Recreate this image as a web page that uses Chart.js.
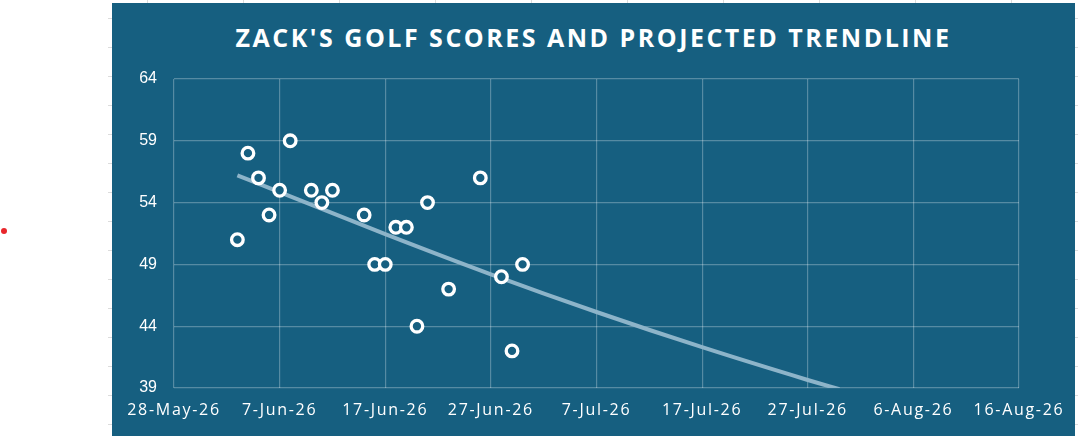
<!DOCTYPE html>
<html>
<head>
<meta charset="utf-8">
<title>Zack's Golf Scores</title>
<script src="https://cdn.jsdelivr.net/npm/chart.js@4.4.1/dist/chart.umd.min.js"></script>
<style>
  html, body { margin: 0; padding: 0; background: #ffffff; }
  body { width: 1078px; height: 436px; position: relative; overflow: hidden; }
  .cells-top { position: absolute; left: 112px; top: 0; width: 963px; height: 3px;
    background: repeating-linear-gradient(to right, transparent 0, transparent 35px, #dcdcdc 35px, #dcdcdc 36px, transparent 36px, transparent 96px); }
  .cells-left, .cells-right { position: absolute; top: 0; height: 436px;
    background: repeating-linear-gradient(to bottom, transparent 0, transparent 18px, #dcdcdc 18px, #dcdcdc 19px, transparent 19px, transparent 29px); }
  .cells-left { left: 108px; width: 4px; }
  .cells-right { left: 1075px; width: 3px; }
  .dot { position: absolute; left: 1px; top: 228px; width: 6px; height: 6px; border-radius: 50%; background: #e8262b; }
  .panel { position: absolute; left: 112px; top: 3px; width: 963px; height: 433px; background: #165f80; }
  .panel h1 { position: absolute; left: 0; top: 19px; width: 100%; margin: 0; text-align: center;
    font: 700 25px "Open Sans", sans-serif; line-height: 30px; letter-spacing: 2.5px; color: #ffffff; }
  #golfChart { position: absolute; left: 0; top: 0; }
</style>
</head>
<body>
<div class="cells-top"></div>
<div class="cells-left"></div>
<div class="cells-right"></div>
<div class="dot"></div>
<div class="panel">
  <h1>ZACK'S GOLF SCORES AND PROJECTED TRENDLINE</h1>
  <canvas id="golfChart" width="963" height="433"></canvas>
</div>
<script>
const scoreDates = ['2026-06-03', '2026-06-04', '2026-06-05', '2026-06-06', '2026-06-07', '2026-06-08',
  '2026-06-10', '2026-06-11', '2026-06-12', '2026-06-15', '2026-06-16', '2026-06-17', '2026-06-18',
  '2026-06-19', '2026-06-20', '2026-06-21', '2026-06-23', '2026-06-26', '2026-06-28', '2026-06-29', '2026-06-30'];
const scores = [51, 58, 56, 53, 55, 59, 55, 54, 55, 53, 49, 49, 52, 52, 44, 54, 47, 56, 48, 42, 49];

const trendDates = ['2026-06-03', '2026-06-07', '2026-06-17', '2026-06-27', '2026-07-07', '2026-07-17', '2026-07-27', '2026-07-30'];
const trendValues = [56.2, 54.85, 51.45, 48.2, 45.15, 42.3, 39.65, 38.9];

const xTickDates = ['2026-05-28', '2026-06-07', '2026-06-17', '2026-06-27', '2026-07-07',
  '2026-07-17', '2026-07-27', '2026-08-06', '2026-08-16'];
const yTicks = [39, 44, 49, 54, 59, 64];

const monthNames = ['Jan', 'Feb', 'Mar', 'Apr', 'May', 'Jun', 'Jul', 'Aug', 'Sep', 'Oct', 'Nov', 'Dec'];
const DAY = 86400000;
const baseTime = Date.parse(xTickDates[0] + 'T00:00:00Z');

// x values are days after the first axis date
function toDay(s) {
    return Math.round((Date.parse(s + 'T00:00:00Z') - baseTime) / DAY);
}
function dayLabel(d) {
    const dt = new Date(baseTime + d * DAY);
    return dt.getUTCDate() + '-' + monthNames[dt.getUTCMonth()] + '-' + String(dt.getUTCFullYear()).slice(2);
}

const bg = '#165f80';
const gridColor = 'rgba(255, 255, 255, 0.28)';

const spacedXLabels = {
    id: 'spacedXLabels',
    afterLayout(chart) {
        const sx = chart.scales.x;
        if (sx._spaced) return;
        const orig = sx.drawLabels.bind(sx);
        sx.drawLabels = function (area) {
            const ctx = chart.ctx;
            ctx.save();
            ctx.letterSpacing = '1.7px';
            orig(area);
            ctx.restore();
        };
        sx._spaced = true;
    }
};

new Chart(document.getElementById('golfChart'), {
    data: {
        datasets: [{
            type: 'scatter',
            label: 'Score',
            data: scoreDates.map((d, i) => ({ x: toDay(d), y: scores[i] })),
            pointRadius: 5.8,
            pointHoverRadius: 5.8,
            borderWidth: 3.3,
            borderColor: '#ffffff',
            backgroundColor: bg,
            order: 0
        }, {
            type: 'line',
            label: 'Trend',
            data: trendDates.map((d, i) => ({ x: toDay(d), y: trendValues[i] })),
            borderColor: '#8db4c9',
            borderWidth: 4,
            pointRadius: 0,
            cubicInterpolationMode: 'monotone',
            order: 1
        }]
    },
    options: {
        responsive: false,
        animation: false,
        layout: { padding: { top: 76, right: 56, left: 0, bottom: 0 } },
        plugins: {
            legend: { display: false },
            tooltip: { enabled: false }
        },
        scales: {
            x: {
                type: 'linear',
                min: 0,
                max: toDay(xTickDates[xTickDates.length - 1]),
                afterBuildTicks: s => { s.ticks = xTickDates.map(d => ({ value: toDay(d) })); },
                afterFit: s => { s.height = 48; },
                grid: { color: gridColor, lineWidth: 1.2, drawTicks: false },
                border: { display: false },
                ticks: {
                    color: '#ffffff',
                    font: { family: 'Open Sans', size: 16 },
                    padding: 13,
                    maxRotation: 0,
                    autoSkip: false,
                    callback: v => dayLabel(v)
                }
            },
            y: {
                min: 39,
                max: 64,
                afterBuildTicks: s => { s.ticks = yTicks.map(v => ({ value: v })); },
                afterFit: s => { s.width = 62; },
                grid: { color: gridColor, lineWidth: 1.2, drawTicks: false },
                border: { display: false },
                ticks: {
                    color: '#ffffff',
                    font: { family: 'Liberation Sans', size: 16 },
                    padding: 17
                }
            }
        }
    },
    plugins: [spacedXLabels]
});
</script>
</body>
</html>
